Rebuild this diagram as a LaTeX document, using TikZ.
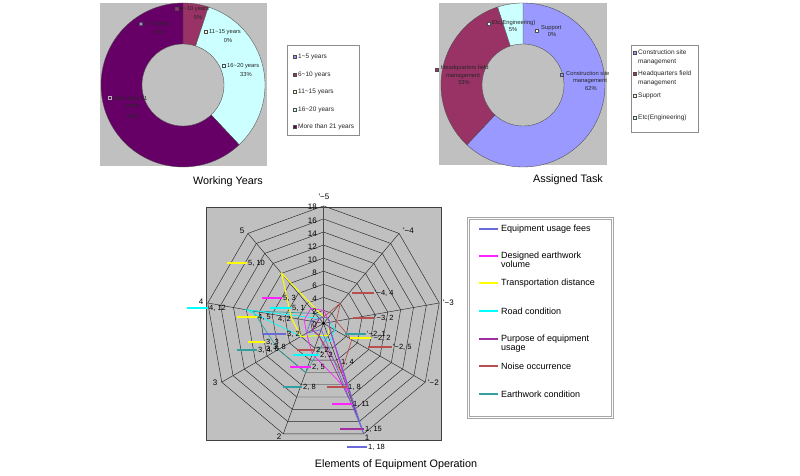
\documentclass[tikz,border=0pt]{standalone}
\usepackage{fontspec}
\setmainfont{Liberation Sans}
\definecolor{bgg}{HTML}{C0C0C0}
\definecolor{lav}{HTML}{9999FF}
\definecolor{maroon}{HTML}{993366}
\definecolor{lyel}{HTML}{FFFFCC}
\definecolor{lcyan}{HTML}{CCFFFF}
\definecolor{dpurp}{HTML}{660066}
\definecolor{sfee}{HTML}{6A6AD8}
\definecolor{svol}{HTML}{FF22FF}
\definecolor{strans}{HTML}{FFFF00}
\definecolor{sroad}{HTML}{00FFFF}
\definecolor{spurp}{HTML}{A030A0}
\definecolor{snoise}{HTML}{B85050}
\definecolor{searth}{HTML}{33A0A0}
\newcommand\radarseries[2]{%
  \foreach \v [count=\i from 0] in {#2} {\coordinate (p\i) at ({323.5+\v*6.528*cos(90-40*\i)},{323.4-\v*6.528*sin(90-40*\i)});}
  \draw[serln,#1] (p0)--(p1)--(p2)--(p3)--(p4)--(p5)--(p6)--(p7)--(p8)--cycle;}
\newcommand\rlab[5]{%
  \draw[#1, line width=1.3pt] (#2,#4) -- ({#3-1.5},#4);
  \node[rl] (rl-#3-#4) at (#3,#4) {#5};}
\newcommand\rlabn[3]{\node[rl] (rn-#1-#2) at (#1,#2) {#3};}
\begin{document}
\begin{tikzpicture}[x=1pt,y=-1pt,
  mk/.style={draw=black!70, line width=0.3pt, inner sep=0pt, minimum size=3.2pt, rectangle},
  dl/.style={font=\fontsize{5.8}{6.6}\selectfont, text=black!85, inner sep=0pt},
  lg/.style={font=\fontsize{6.5}{9}\selectfont, text=black!85, inner sep=0pt, anchor=west, align=left},
  rl/.style={font=\fontsize{7.5}{8}\selectfont, text=black, inner sep=0pt, anchor=west},
  tk/.style={font=\fontsize{8}{8}\selectfont, inner sep=0pt, anchor=east},
  ax/.style={font=\fontsize{8}{8}\selectfont, inner sep=0pt},
  captxt/.style={font=\fontsize{10.8}{12}\selectfont, inner sep=0pt},
  l3/.style={font=\fontsize{9}{9.5}\selectfont, inner sep=0pt, anchor=west, align=left},
  wedge/.style={draw=black!70, line width=0.35pt},
  gridln/.style={draw=black!85, line width=0.45pt},
  serln/.style={line width=0.7pt},
  keyln/.style={line width=1.3pt},
]
\useasboundingbox (0,0) rectangle (800,476);

% ---------------- Working Years donut ----------------
\fill[bgg] (100,3) rectangle (267,166);
\coordinate (c1) at (183,85);
\filldraw[wedge, fill=maroon] (c1) -- ++(-90:82) arc[start angle=-90, end angle=-72, radius=82] -- cycle;
\filldraw[wedge, fill=lcyan] (c1) -- ++(-72:82) arc[start angle=-72, end angle=46.8, radius=82] -- cycle;
\filldraw[wedge, fill=dpurp] (c1) -- ++(46.8:82) arc[start angle=46.8, end angle=270, radius=82] -- cycle;
\filldraw[wedge, fill=bgg] (c1) circle[radius=41];

\node[mk, fill=maroon] (m1a) at (177,9) {};
\node[dl, anchor=west] (t1a) at (180,9) {6\textasciitilde10 years};
\node[dl] (p1a) at (198,18) {5\%};
\node[mk, fill=lav] (m1b) at (141,24) {};
\node[dl, anchor=west] (t1b) at (144,24) {1\textasciitilde5 years};
\node[dl] (p1b) at (159,33) {0\%};
\node[mk, fill=lyel] (m1c) at (206,32) {};
\node[dl, anchor=west] (t1c) at (209,32) {11\textasciitilde15 years};
\node[dl] (p1c) at (228,41) {0\%};
\node[mk, fill=lcyan] (m1d) at (224,66) {};
\node[dl, anchor=west] (t1d) at (227,66) {16\textasciitilde20 years};
\node[dl] (p1d) at (246,75) {33\%};
\node[mk, fill=dpurp, draw=black!30] (m1e) at (110,98) {};
\node[dl, anchor=west] (t1e) at (113,98) {More than 21};
\node[dl] (y1e) at (133,107) {years};
\node[dl] (p1e) at (133,117) {62\%};

\draw[draw=black!45, line width=0.4pt, fill=white] (287,45) rectangle (359,135);
\foreach \yy/\cc/\lt [count=\k] in {57/lav/1\textasciitilde5 years, 75/maroon/6\textasciitilde10 years, 92/lyel/11\textasciitilde15 years, 110/lcyan/16\textasciitilde20 years, 127/dpurp/More than 21 years}{
  \node[mk, fill=\cc] (lm1-\k) at (295,\yy) {};
  \node[lg] (lt1-\k) at (298,\yy) {\lt};
}
\node[captxt] (cap1) at (228,182) {Working Years};

% ---------------- Assigned Task donut ----------------
\fill[bgg] (439,3) rectangle (607,165);
\coordinate (c2) at (523,85);
\filldraw[wedge, fill=lav] (c2) -- ++(-90:82) arc[start angle=-90, end angle=133.2, radius=82] -- cycle;
\filldraw[wedge, fill=maroon] (c2) -- ++(133.2:82) arc[start angle=133.2, end angle=252, radius=82] -- cycle;
\filldraw[wedge, fill=lcyan] (c2) -- ++(252:82) arc[start angle=252, end angle=270, radius=82] -- cycle;
\filldraw[wedge, fill=bgg] (c2) circle[radius=41];

\node[mk, fill=lcyan] (m2a) at (489,24) {};
\node[dl, anchor=west] (t2a) at (492,23) {Etc(Engineering)};
\node[dl] (p2a) at (513,30) {5\%};
\node[mk, fill=lyel] (m2b) at (537,31) {};
\node[dl, anchor=west] (t2b) at (541,28) {Support};
\node[dl] (p2b) at (552,35) {0\%};
\node[mk, fill=maroon] (m2c) at (437,70) {};
\node[dl, anchor=west] (t2c) at (441,68) {Headquarters field};
\node[dl] (n2c) at (463,76) {management};
\node[dl] (p2c) at (464,83) {33\%};
\node[mk, fill=lav] (m2d) at (562,75) {};
\node[dl, anchor=west] (t2d) at (566,73) {Construction site};
\node[dl] (n2d) at (590,81) {management};
\node[dl] (p2d) at (591,89) {62\%};

\draw[draw=black!45, line width=0.4pt, fill=white] (631,45) rectangle (698,132);
\node[mk, fill=lav] (lm2-1) at (635,53) {};
\node[lg, anchor=north west] (lt2-1) at (638,49.5) {Construction site\\management};
\node[mk, fill=maroon] (lm2-2) at (635,74) {};
\node[lg, anchor=north west] (lt2-2) at (638,70.5) {Headquarters field\\management};
\node[mk, fill=lyel] (lm2-3) at (635,96) {};
\node[lg] (lt2-3) at (638,96) {Support};
\node[mk, fill=lcyan] (lm2-4) at (635,118) {};
\node[lg] (lt2-4) at (638,118) {Etc(Engineering)};
\node[captxt] (cap2) at (568,180) {Assigned Task};

% ---------------- Radar ----------------
\filldraw[fill=bgg, draw=black!75, line width=0.5pt] (206,207) rectangle (441,440);
\coordinate (rc) at (323.5,323.4);
\foreach \v in {2,4,...,18}
  \draw[gridln] (323.5,{323.4-\v*6.528}) \foreach \i in {1,...,8} { -- ({323.5+\v*6.528*cos(90-40*\i)},{323.4-\v*6.528*sin(90-40*\i)}) } -- cycle;
\foreach \i in {1,...,8}
  \draw[gridln] (rc) -- ({323.5+117.5*cos(90-40*\i)},{323.4-117.5*sin(90-40*\i)});
\draw[black!70, line width=1.1pt] (rc) -- (323.5,205.9);

% data series: '-5,'-4,'-3,'-2,1,2,3,4,5
\radarseries{searth}{1,1,1,1,2,8,8,11,2}
\radarseries{sroad}{1,1,1,2,3,2,4,12,1}
\radarseries{strans, line width=1pt}{1,1,1,1,2,2,4,5,10}
\radarseries{snoise}{1,4,2,5,8,2,2,1,1}
\radarseries{svol}{2,1,1,1,11,5,3,3,3}
\radarseries{spurp}{1,1,1,1,15,2,2,1,1}
\radarseries{sfee}{1,1,1,1,18,1,3,2,1}
\fill[black] (rc) circle[radius=1.6];

% tick labels
\foreach \v in {0,2,...,18}
  \node[tk] (tk\v) at (317,{323.4-\v*6.528+1.3}) {\v};

% axis labels
\node[ax] (a0) at (324,197) {\textquotesingle−5};
\node[ax, anchor=west] (a1) at (403,231) {\textquotesingle−4};
\node[ax, anchor=west] (a2) at (443,303) {\textquotesingle−3};
\node[ax, anchor=west] (a3) at (428,383) {\textquotesingle−2};
\node[ax] (a4) at (367,438) {1};
\node[ax] (a5) at (279,437) {2};
\node[ax] (a6) at (215,383) {3};
\node[ax] (a7) at (201,302) {4};
\node[ax] (a8) at (242,231) {5};

% data labels
\rlab{strans}{227}{248}{263}{5, 10}
\rlab{svol}{262}{283}{298}{5, 3}
\rlab{sroad}{270}{292}{308}{5, 1}
\rlab{sroad}{187}{209}{308}{4, 12}
\rlab{strans}{237}{258}{317}{4, 5}
\rlabn{278}{319}{4, 2}
\rlab{sfee}{262}{287}{334}{3, 2}
\rlab{strans}{248}{266}{342}{3, 3}
\rlab{searth}{237}{258}{350}{3, 4}
\rlabn{266}{349}{3, 6}
\rlabn{273}{347}{3, 8}
\rlab{snoise}{352}{375}{293}{\textquotesingle−4, 4}
\rlab{snoise}{353}{375}{318}{\textquotesingle−3, 2}
\rlab{searth}{345}{367}{334}{\textquotesingle−2, 1}
\rlab{strans}{350}{372}{338}{\textquotesingle−2, 2}
\rlab{snoise}{368}{393}{347}{\textquotesingle−2, 5}
\rlabn{341}{362}{1, 4}
\rlab{snoise}{297}{316}{350}{2, 2}
\rlab{sroad}{293}{320}{355}{2, 2}
\rlab{svol}{290}{312}{367}{2, 5}
\rlab{searth}{283}{303}{387}{2, 8}
\rlab{snoise}{327}{348}{387}{1, 8}
\rlab{svol}{332}{353}{404}{1, 11}
\rlab{spurp}{340}{365}{429}{1, 15}
\rlab{sfee}{347}{368}{447}{1, 18}

% legend
\draw[gray!70, double=white, double distance=1pt, line width=1pt] (468,218) rectangle (612,417);
\foreach \yy/\cc/\lt [count=\k] in {229/sfee/Equipment usage fees, 283/strans/Transportation distance, 311/sroad/Road condition, 366/snoise/Noise occurrence, 394/searth/Earthwork condition}{
  \draw[keyln, \cc] (479,\yy) -- (498,\yy);
  \node[l3] (l3t-\k) at (501,\yy) {\lt};
}
\draw[keyln, svol] (479,256) -- (498,256);
\node[l3, anchor=north west] (l3t-6) at (501,251.5) {Designed earthwork\\volume};
\draw[keyln, spurp] (479,339) -- (498,339);
\node[l3, anchor=north west] (l3t-7) at (501,334.5) {Purpose of equipment\\usage};

\node[captxt] (cap3) at (396,465) {Elements of Equipment Operation};
\end{tikzpicture}
\end{document}
